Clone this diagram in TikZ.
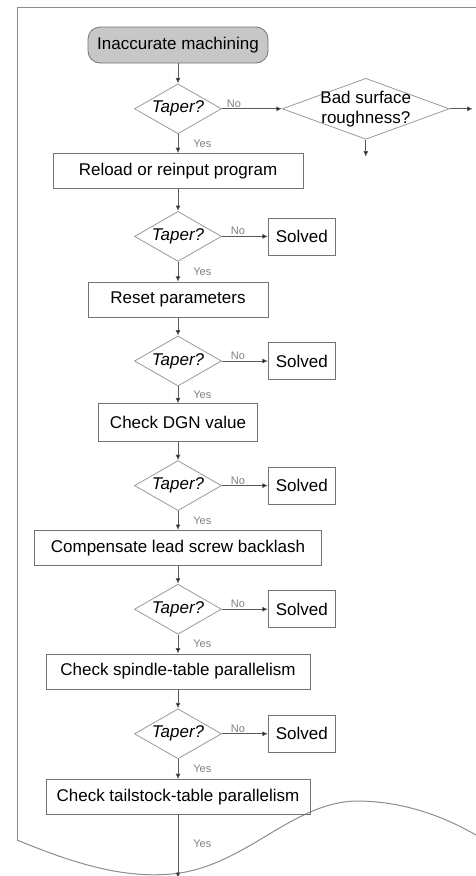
\documentclass[tikz,border=0pt]{standalone}
\usepackage{fontspec}
\setmainfont{Liberation Sans}
\usepackage{tikz}
\usetikzlibrary{arrows.meta,positioning,shapes.geometric}
\newcommand{\fbig}{\fontsize{17}{20}\selectfont}
\newcommand{\fsmall}{\fontsize{11}{12}\selectfont}
\tikzset{
  box/.style={draw=black!55, line width=0.8pt, align=center, inner sep=2pt, minimum height=35pt, font=\fbig},
  stepbox/.style={box},
  start/.style={box, rounded corners=12pt, fill=black!22, minimum width=180pt, minimum height=36pt},
  solved/.style={box, minimum width=67pt, minimum height=37pt},
  dec/.style={diamond, draw=black!40, line width=0.8pt, inner sep=0pt, aspect=1.74, minimum width=87pt, minimum height=50pt, font=\fbig\itshape},
  yn/.style={font=\fsmall, text=black!50, inner sep=1pt},
  fl/.style={-{Latex[length=5.5pt,width=5pt,fill=black]}, draw=black!65, line width=0.8pt},
  frame/.style={draw=black!45, line width=1pt},
}
\begin{document}
\begin{tikzpicture}[node distance=19pt and 46pt]
  \useasboundingbox (0,0) rectangle (475pt,-876pt);
  % page edge
  \draw[frame] (17pt,-840pt) -- (17pt,-7pt) -- (476pt,-7pt);
  \draw[frame] (17pt,-840pt) .. controls (80pt,-866pt) and (130pt,-880pt) .. (180pt,-873pt)
     .. controls (250pt,-862pt) and (295pt,-800pt) .. (360pt,-801pt)
     .. controls (410pt,-802pt) and (450pt,-820pt) .. (476pt,-835pt);
  % main column
  \node[start] (inacc) at (178pt,-45pt) {Inaccurate machining};
  \node[dec, below=20pt of inacc] (t1) {Taper?};
  \node[dec, minimum width=167pt, minimum height=61pt, aspect=2.7, right=60pt of t1] (bad) {};
  \node[font=\fbig, align=center, inner sep=0pt] (badtxt) at (bad) {Bad surface\\roughness?};
  \coordinate[right=23pt of bad] (badr);
  \coordinate[below=17pt of bad] (badd);
  \node[stepbox, minimum width=250pt, below=of t1] (reload) {Reload or reinput program};
  \node[dec, below=22pt of reload] (t2) {Taper?};
  \node[solved, right=of t2] (s2) {Solved};
  \node[stepbox, minimum width=180pt, below=20pt of t2] (reset) {Reset parameters};
  \node[dec, below=18pt of reset] (t3) {Taper?};
  \node[solved, right=of t3] (s3) {Solved};
  \node[stepbox, minimum width=159pt, minimum height=38pt, below=17pt of t3] (dgn) {Check DGN value};
  \node[dec, below=18pt of dgn] (t4) {Taper?};
  \node[solved, right=of t4] (s4) {Solved};
  \node[stepbox, minimum width=287pt, below=of t4] (comp) {Compensate lead screw backlash};
  \node[dec, below=18pt of comp] (t5) {Taper?};
  \node[solved, right=of t5] (s5) {Solved};
  \node[stepbox, minimum width=264pt, below=of t5] (spindle) {Check spindle-table parallelism};
  \node[dec, below=of spindle] (t6) {Taper?};
  \node[solved, right=of t6] (s6) {Solved};
  \node[stepbox, minimum width=264pt, below=20pt of t6] (tail) {Check tailstock-table parallelism};
  \coordinate[below=63pt of tail] (out);
  % connectors
  \draw[fl] (inacc) -- (t1);
  \draw[fl] (t1) -- node[yn, above, pos=0.2]{No} (bad);
  \draw[fl] (bad) -- (badr);
  \draw[fl] (bad) -- (badd);
  \draw[fl] (t1) -- node[yn, right=14pt]{Yes} (reload);
  \draw[fl] (reload) -- (t2);
  \draw[fl] (t2) -- node[yn, above, pos=0.35]{No} (s2);
  \draw[fl] (t2) -- node[yn, right=14pt]{Yes} (reset);
  \draw[fl] (reset) -- (t3);
  \draw[fl] (t3) -- node[yn, above, pos=0.35]{No} (s3);
  \draw[fl] (t3) -- node[yn, right=14pt]{Yes} (dgn);
  \draw[fl] (dgn) -- (t4);
  \draw[fl] (t4) -- node[yn, above, pos=0.35]{No} (s4);
  \draw[fl] (t4) -- node[yn, right=14pt]{Yes} (comp);
  \draw[fl] (comp) -- (t5);
  \draw[fl] (t5) -- node[yn, above, pos=0.35]{No} (s5);
  \draw[fl] (t5) -- node[yn, right=14pt]{Yes} (spindle);
  \draw[fl] (spindle) -- (t6);
  \draw[fl] (t6) -- node[yn, above, pos=0.35]{No} (s6);
  \draw[fl] (t6) -- node[yn, right=14pt]{Yes} (tail);
  \draw[fl] (tail) -- node[yn, right=14pt, pos=0.45]{Yes} (out);
\end{tikzpicture}
\end{document}
